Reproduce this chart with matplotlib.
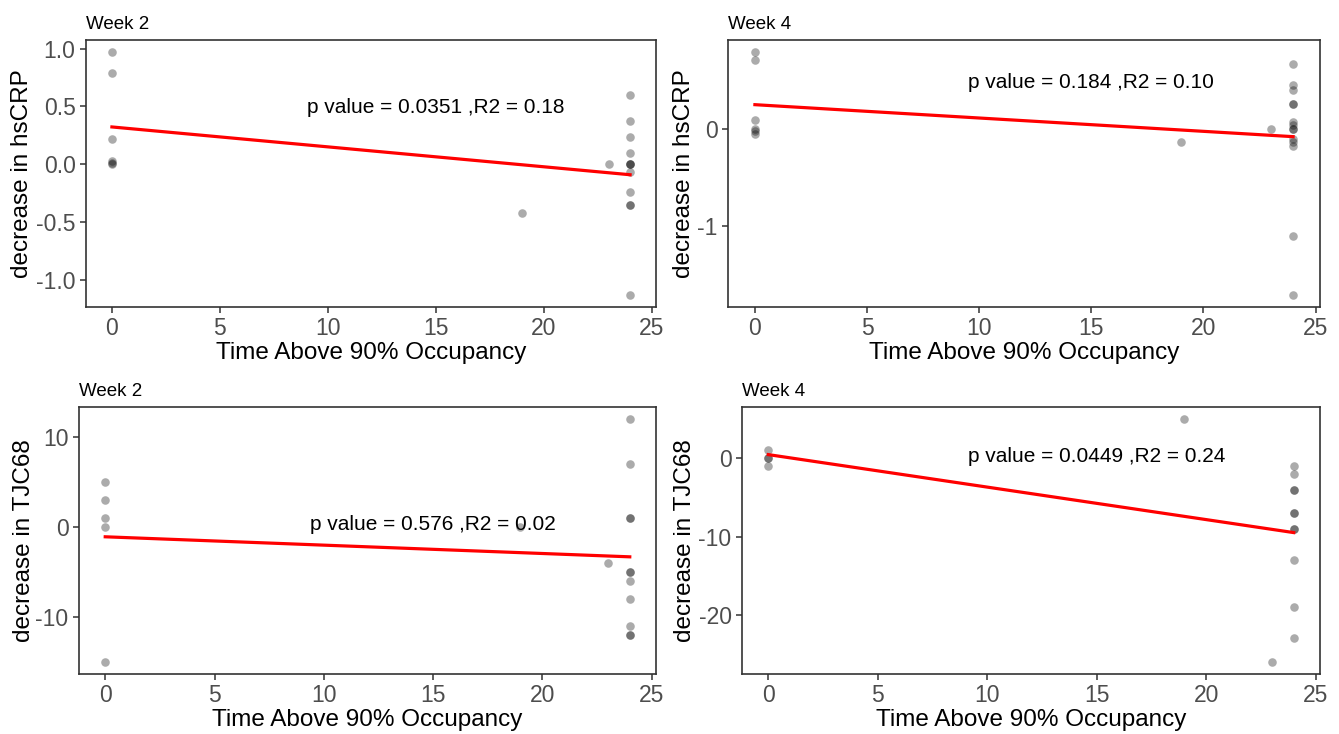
import numpy as np
import matplotlib
matplotlib.use("Agg")
import matplotlib.pyplot as plt

plt.rcParams['font.family'] = ['Liberation Sans', 'DejaVu Sans']

# hsCRP, week 2
crp_w2_x = [0, 0, 0, 0, 0, 0, 19, 23,
            24, 24, 24, 24, 24, 24, 24, 24, 24, 24, 24, 24]
crp_w2_y = [0.97, 0.79, 0.22, 0.03, 0.01, 0.0, -0.42, 0.0,
            0.60, 0.37, 0.24, 0.10, 0.0, 0.0, -0.07, -0.24, -0.35, -0.35, -1.13, 0.0]

# hsCRP, week 4
crp_w4_x = [0, 0, 0, 0, 0, 0, 19, 23,
            24, 24, 24, 24, 24, 24, 24, 24, 24, 24, 24, 24, 24, 24]
crp_w4_y = [0.80, 0.72, 0.10, 0.0, -0.02, -0.05, -0.13, 0.0,
            0.68, 0.46, 0.41, 0.26, 0.26, 0.07, 0.04, 0.0, 0.0, -0.10, -0.13, -0.17, -1.11, -1.72]

# TJC68, week 2
tjc_w2_x = [0, 0, 0, 0, 0, 19, 23,
            24, 24, 24, 24, 24, 24, 24, 24, 24, 24, 24]
tjc_w2_y = [5, 3, 1, 0, -15, 0, -4,
            12, 7, 1, 1, -5, -5, -6, -8, -11, -12, -12]

# TJC68, week 4
tjc_w4_x = [0, 0, 0, 0, 19, 23,
            24, 24, 24, 24, 24, 24, 24, 24, 24, 24, 24]
tjc_w4_y = [1, 0, 0, -1, 5, -26,
            -1, -2, -4, -4, -7, -7, -9, -9, -13, -19, -23]

titles = ["Week 2", "Week 4", "Week 2", "Week 4"]
ylabels = ["decrease in hsCRP", "decrease in hsCRP", "decrease in TJC68", "decrease in TJC68"]
stats = ["p value = 0.0351 ,R2 = 0.18", "p value = 0.184 ,R2 = 0.10",
         "p value = 0.576 ,R2 = 0.02", "p value = 0.0449 ,R2 = 0.24"]
text_pos = [(15, 0.49), (15, 0.48), (15, 0.3), (15, 0.2)]
yticks = [[-1.0, -0.5, 0.0, 0.5, 1.0], [-1, 0], [-10, 0, 10], [-20, -10, 0]]
ytick_fmt = ["{:.1f}", "{:.0f}", "{:.0f}", "{:.0f}"]

W, H = 1339, 734
fig = plt.figure(figsize=(W / 100, H / 100), dpi=100)

# panel boxes in pixels: left, top, right, bottom
boxes = [(86, 40, 656, 307), (728, 40, 1320, 307),
         (79, 407, 656, 674), (742, 407, 1320, 674)]
label_x = [-0.093, -0.055, -0.077, -0.079]

data = [(crp_w2_x, crp_w2_y), (crp_w4_x, crp_w4_y),
        (tjc_w2_x, tjc_w2_y), (tjc_w4_x, tjc_w4_y)]

for i, (x, y) in enumerate(data):
    l, t, r, b = boxes[i]
    ax = fig.add_axes([l / W, 1 - b / H, (r - l) / W, (b - t) / H])
    x = np.array(x, dtype=float)
    y = np.array(y, dtype=float)

    ax.scatter(x, y, s=38, color='black', alpha=0.33, linewidths=0, zorder=2)

    # linear fit like geom_smooth(method="lm", se=FALSE)
    k, c = np.polyfit(x, y, 1)
    xs = np.linspace(x.min(), x.max(), 50)
    ax.plot(xs, k * xs + c, color='red', lw=2.3, zorder=3)

    tx, ty = text_pos[i]
    ax.text(tx, ty, stats[i], ha='center', va='center', fontsize=15, color='black', zorder=4)

    # ggplot style 5% expansion
    xr = x.max() - x.min()
    yr = y.max() - y.min()
    ax.set_xlim(x.min() - 0.05 * xr, x.max() + 0.05 * xr)
    ax.set_ylim(y.min() - 0.05 * yr, y.max() + 0.05 * yr)

    ax.set_xticks([0, 5, 10, 15, 20, 25])
    ax.set_yticks(yticks[i])
    ax.set_yticklabels([ytick_fmt[i].format(v) for v in yticks[i]])
    ax.tick_params(labelsize=16.5, labelcolor='#4D4D4D', color='#333333', length=4, width=1.1)

    for sp in ax.spines.values():
        sp.set_color('#333333')
        sp.set_linewidth(1.2)

    ax.set_xlabel("Time Above 90% Occupancy", fontsize=17.5, labelpad=1)
    ax.set_ylabel(ylabels[i], fontsize=17.5)
    ax.yaxis.set_label_coords(label_x[i], 0.5)
    ax.set_title(titles[i], loc='left', fontsize=13.5, pad=8)

fig.savefig("out.png", dpi=100, facecolor='white')
